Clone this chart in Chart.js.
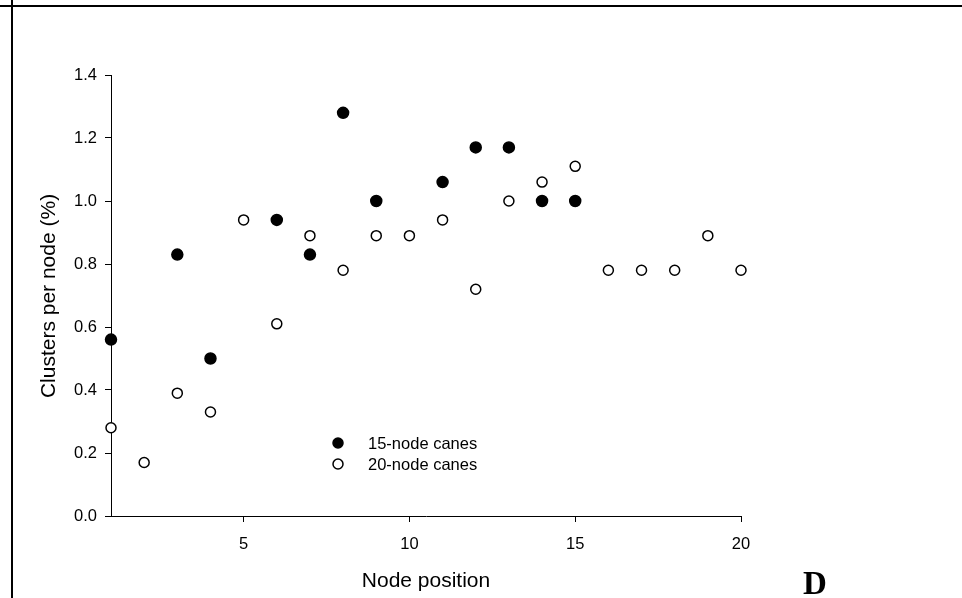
<!DOCTYPE html>
<html>
<head>
<meta charset="utf-8">
<script src="https://cdn.jsdelivr.net/npm/chart.js@4.4.1/dist/chart.umd.min.js"></script>
<style>
  html, body { margin: 0; padding: 0; background: #fff; }
  #wrap { position: relative; width: 962px; height: 598px; }
</style>
</head>
<body>
<div id="wrap"><canvas id="myChart" width="962" height="598"></canvas></div>
<script>
// node positions along the cane //
const nodes15 = [1, 3, 4, 6, 7, 8, 9, 11, 12, 13, 14, 15];
const nodes20 = [1, 2, 3, 4, 5, 6, 7, 8, 9, 10, 11, 12, 13, 14, 15, 16, 17, 18, 19, 20];
// clusters per node (%) //
const clusters15 = [0.56, 0.83, 0.50, 0.94, 0.83, 1.28, 1.00, 1.06, 1.17, 1.17, 1.00, 1.00];
const clusters20 = [0.28, 0.17, 0.39, 0.33, 0.94, 0.61, 0.89, 0.78, 0.89, 0.89, 0.94, 0.72, 1.00, 1.06, 1.11, 0.78, 0.78, 0.78, 0.89, 0.78];
// tick labels //
const xTicks = [5, 10, 15, 20];
const yTicks = [0, 0.2, 0.4, 0.6, 0.8, 1.0, 1.2, 1.4];
const seriesNames = ["15-node canes", "20-node canes"];

const toPoints = (xs, ys) => xs.map((x, i) => ({x: x, y: ys[i]}));

// frame lines, axis titles, legend and panel letter //
const extras = {
  id: "extras",
  beforeDraw(chart) {
    const ctx = chart.ctx;
    ctx.save();
    ctx.fillStyle = "#fff";
    ctx.fillRect(0, 0, chart.width, chart.height);
    ctx.fillStyle = "#000";
    ctx.fillRect(0, 5, chart.width, 2);
    ctx.fillRect(11, 0, 2, chart.height);
    ctx.restore();
  },
  afterDraw(chart) {
    const ctx = chart.ctx;
    ctx.save();
    ctx.fillStyle = "#000";
    ctx.textBaseline = "middle";

    // axis titles
    ctx.font = "21px 'Liberation Sans', Arial, sans-serif";
    ctx.textAlign = "center";
    ctx.fillText("Node position", 426, 581);
    ctx.save();
    ctx.translate(49, 296);
    ctx.rotate(-Math.PI / 2);
    ctx.fillText("Clusters per node (%)", 0, 0);
    ctx.restore();

    // panel letter
    ctx.font = "bold 33px 'Liberation Serif', 'Times New Roman', serif";
    ctx.fillText("D", 815, 585);

    // legend
    ctx.font = "16.5px 'Liberation Sans', Arial, sans-serif";
    ctx.textAlign = "left";
    const rows = [443, 464];
    rows.forEach((y, i) => {
      ctx.beginPath();
      ctx.arc(338, y, 5, 0, Math.PI * 2);
      ctx.fillStyle = i === 0 ? "#000" : "#fff";
      ctx.fill();
      ctx.lineWidth = 1.5;
      ctx.strokeStyle = "#000";
      ctx.stroke();
      ctx.fillStyle = "#000";
      ctx.fillText(seriesNames[i], 368, y + 1);
    });
    ctx.restore();
  }
};

new Chart("myChart", {
  type: "scatter",
  data: {
    datasets: [
      // 15-node canes, filled //
      {
        label: seriesNames[0],
        data: toPoints(nodes15, clusters15),
        backgroundColor: "#000",
        borderColor: "#000",
        borderWidth: 1.5,
        pointRadius: 5.5,
        clip: false
      },
      // 20-node canes, open //
      {
        label: seriesNames[1],
        data: toPoints(nodes20, clusters20),
        backgroundColor: "#fff",
        borderColor: "#000",
        borderWidth: 1.5,
        pointRadius: 5,
        clip: false
      }
    ]
  },
  options: {
    responsive: false,
    animation: false,
    layout: { padding: { left: 51, right: 221, top: 75, bottom: 42 } },
    plugins: {
      legend: { display: false },
      tooltip: { enabled: false }
    },
    scales: {
      x: {
        type: "linear",
        min: 1,
        max: 20,
        afterBuildTicks: s => { s.ticks = xTicks.map(v => ({value: v})); },
        afterFit: s => { s.height = 40; },
        grid: { drawOnChartArea: false, color: "#000", tickLength: 6, lineWidth: 1 },
        border: { color: "#000", width: 1 },
        ticks: {
          color: "#000",
          padding: 13,
          font: { family: "'Liberation Sans', Arial, sans-serif", size: 16.5 },
          callback: v => String(v)
        }
      },
      y: {
        min: 0,
        max: 1.4,
        afterBuildTicks: s => { s.ticks = yTicks.map(v => ({value: v})); },
        afterFit: s => { s.width = 60; },
        grid: { drawOnChartArea: false, color: "#000", tickLength: 6, lineWidth: 1 },
        border: { color: "#000", width: 1 },
        ticks: {
          color: "#000",
          padding: 8,
          font: { family: "'Liberation Sans', Arial, sans-serif", size: 16.5 },
          callback: v => Number(v).toFixed(1)
        }
      }
    }
  },
  plugins: [extras]
});
</script>
</body>
</html>
